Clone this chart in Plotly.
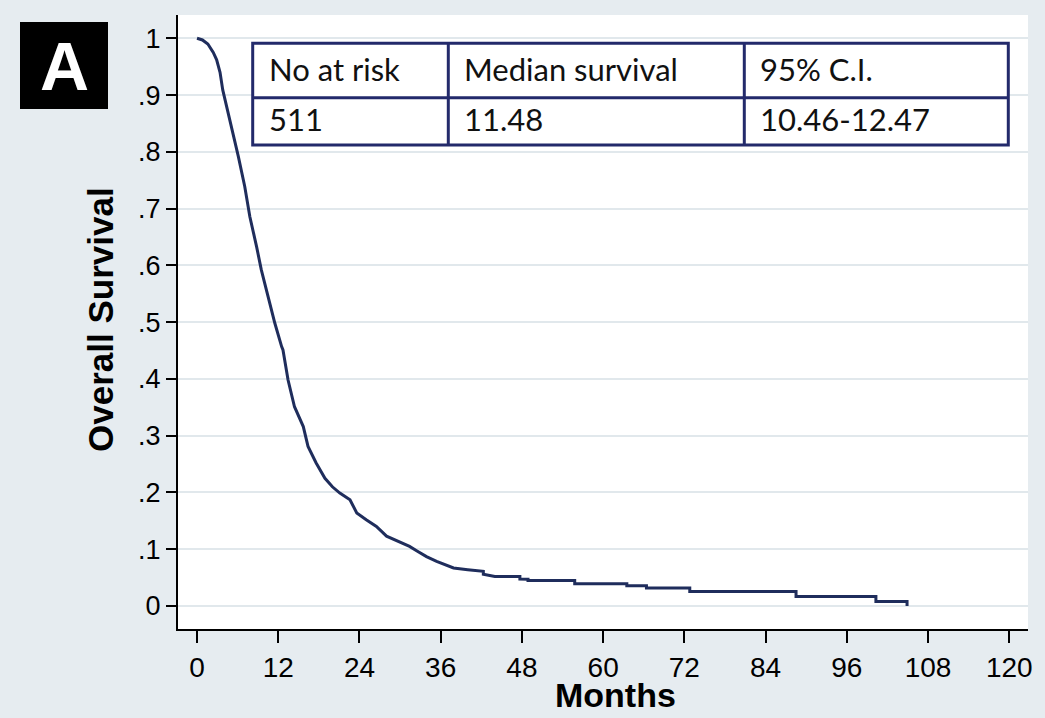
import plotly.graph_objects as go

# ---- data ----
months = [0, 0.8, 1.6, 1.9, 2.4, 2.9, 3.4, 3.8, 4.6, 5.6, 6.1, 7.05, 7.8, 8.8, 9.5, 10.5,
          11.5, 12.5, 12.7, 13.45, 14.4, 15.7, 16.4, 17.6, 18.9, 20.0, 21.1, 22.6, 23.6,
          25.0, 26.5, 28.0, 29.5, 31.4, 32.5, 33.9, 35.4, 36.5, 37.9, 40.0, 42.3, 42.3,
          43.9, 44.0, 47.7, 47.7, 48.9, 48.9, 55.8, 55.8, 63.5, 63.5, 66.4, 66.4,
          72.8, 72.8, 88.5, 88.5, 100.3, 100.3, 104.9, 104.9]
survival = [1.0, 0.997, 0.99, 0.985, 0.975, 0.962, 0.94, 0.909, 0.868, 0.821, 0.792, 0.739,
            0.686, 0.633, 0.592, 0.545, 0.498, 0.457, 0.451, 0.398, 0.351, 0.316, 0.281,
            0.252, 0.225, 0.21, 0.199, 0.187, 0.164, 0.152, 0.140, 0.123, 0.115, 0.105,
            0.097, 0.087, 0.0785, 0.073, 0.067, 0.064, 0.061, 0.056, 0.053, 0.052, 0.052,
            0.0475, 0.047, 0.045, 0.045, 0.039, 0.039, 0.0357, 0.0357, 0.0317, 0.0317,
            0.0257, 0.0257, 0.0169, 0.0169, 0.0081, 0.0081, 0.0]

y_tickvals = [0, 0.1, 0.2, 0.3, 0.4, 0.5, 0.6, 0.7, 0.8, 0.9, 1.0]
y_ticktext = ["0", ".1", ".2", ".3", ".4", ".5", ".6", ".7", ".8", ".9", "1"]
x_tickvals = [0, 12, 24, 36, 48, 60, 72, 84, 96, 108, 120]

table_header = ["No at risk", "Median survival", "95% C.I."]
table_values = ["511", "11.48", "10.46-12.47"]

# ---- layout geometry (pixels) ----
W, H = 1045, 718
L, R, T, B = 178, 17, 15, 89
PW, PH = W - L - R, H - T - B


def px(x):
    return (x - L) / PW


def py(y):
    return (H - B - y) / PH


BG = "#e6ecf0"
GRID = "#e1e8ec"
NAVY = "#1f2d5c"
TBL = "#232a6b"
NUMFONT = "Liberation Sans Narrow, Arial Narrow, Liberation Sans, Arial, sans-serif"

fig = go.Figure()
fig.add_trace(go.Scatter(x=months, y=survival, mode="lines",
                         line=dict(color=NAVY, width=3), hoverinfo="skip",
                         showlegend=False))

shapes = []
annotations = []

# "A" panel label
shapes.append(dict(type="rect", xref="paper", yref="paper",
                   x0=px(20), x1=px(108), y0=py(109), y1=py(22),
                   fillcolor="black", line=dict(width=0), layer="above"))
annotations.append(dict(text="<b>A</b>", xref="paper", yref="paper",
                        x=px(64), y=py(66), xanchor="center", yanchor="middle",
                        showarrow=False,
                        font=dict(family="Liberation Sans, Arial, sans-serif",
                                  size=68, color="white")))

# table
tx = [252.7, 448.3, 744.3, 1008.3]
ty = [43.3, 97.7, 145.0]
shapes.append(dict(type="rect", xref="paper", yref="paper",
                   x0=px(tx[0]), x1=px(tx[3]), y0=py(ty[2]), y1=py(ty[0]),
                   fillcolor="white", line=dict(color=TBL, width=3), layer="above"))
shapes.append(dict(type="line", xref="paper", yref="paper",
                   x0=px(tx[0]), x1=px(tx[3]), y0=py(ty[1]), y1=py(ty[1]),
                   line=dict(color=TBL, width=3), layer="above"))
for xv in tx[1:3]:
    shapes.append(dict(type="line", xref="paper", yref="paper",
                       x0=px(xv), x1=px(xv), y0=py(ty[2]), y1=py(ty[0]),
                       line=dict(color=TBL, width=3), layer="above"))
TXTFONT = dict(family="Lato, Carlito, Calibri, sans-serif", size=31, color="#111111")
for i in range(3):
    annotations.append(dict(text=table_header[i], xref="paper", yref="paper",
                            x=px(tx[i] + 14), y=py((ty[0] + ty[1]) / 2 - 2),
                            xanchor="left", yanchor="middle", showarrow=False,
                            font=TXTFONT))
    annotations.append(dict(text=table_values[i], xref="paper", yref="paper",
                            x=px(tx[i] + 14), y=py((ty[1] + ty[2]) / 2 - 2),
                            xanchor="left", yanchor="middle", showarrow=False,
                            font=TXTFONT))

# axis titles
annotations.append(dict(text="<b>Overall Survival</b>", xref="paper", yref="paper",
                        x=px(100), y=py(320), textangle=-90,
                        xanchor="center", yanchor="middle", showarrow=False,
                        font=dict(family="Liberation Sans, Arial, sans-serif",
                                  size=35, color="black")))
annotations.append(dict(text="<b>Months</b>", xref="paper", yref="paper",
                        x=px(615), y=py(695),
                        xanchor="center", yanchor="middle", showarrow=False,
                        font=dict(family=NUMFONT, size=34, color="black")))

fig.update_layout(
    width=W, height=H,
    margin=dict(l=L, r=R, t=T, b=B, pad=0),
    paper_bgcolor=BG, plot_bgcolor="white",
    shapes=shapes, annotations=annotations,
    showlegend=False,
)
fig.update_xaxes(range=[-2.81, 122.77], tickvals=x_tickvals,
                 ticks="outside", ticklen=12, tickwidth=2, tickcolor="black",
                 showline=True, linecolor="black", linewidth=2,
                 showgrid=False, zeroline=False,
                 tickfont=dict(family=NUMFONT, size=28, color="black"))
fig.update_yaxes(range=[-0.0405, 1.041], tickvals=y_tickvals, ticktext=y_ticktext,
                 ticks="outside", ticklen=10, tickwidth=2, tickcolor="black",
                 showline=True, linecolor="black", linewidth=2,
                 showgrid=True, gridcolor=GRID, gridwidth=2, zeroline=False,
                 tickfont=dict(family=NUMFONT, size=27, color="black"))

fig.write_html("out.html", config={"displayModeBar": False},
               post_script="document.body.style.margin='0';document.body.style.padding='0';")
